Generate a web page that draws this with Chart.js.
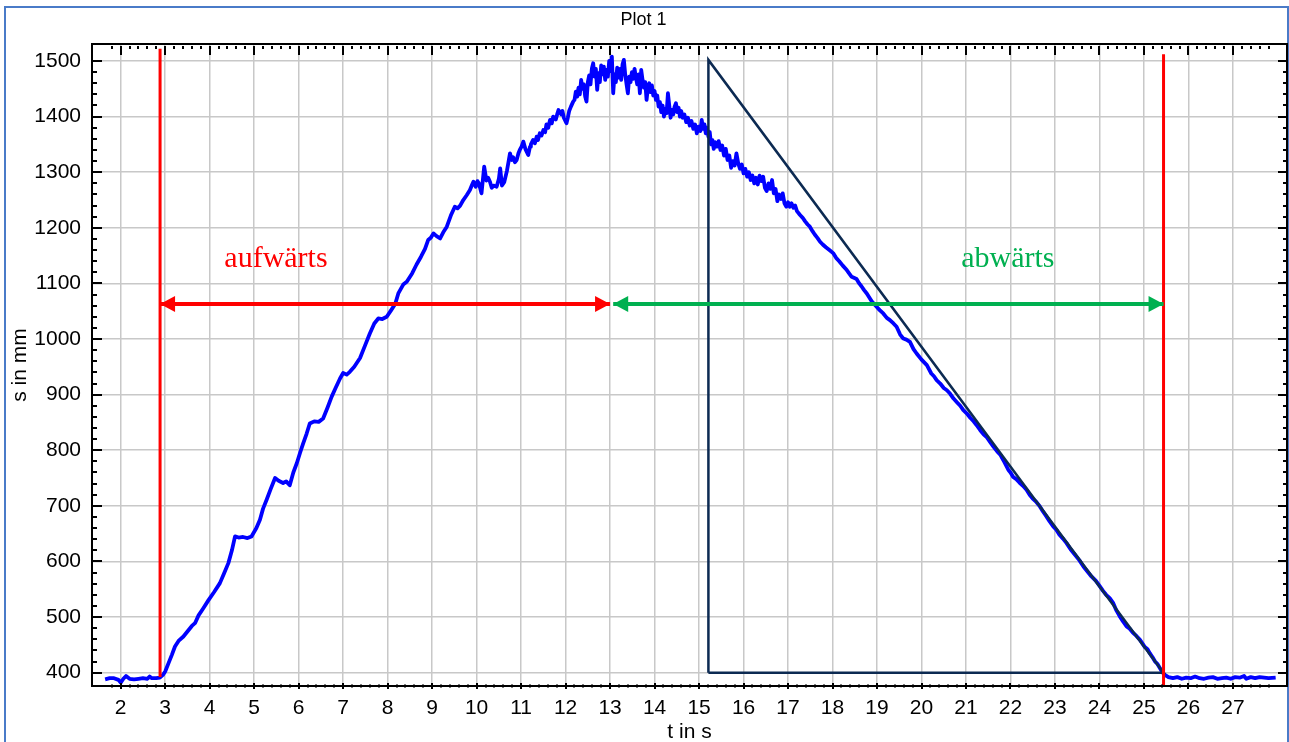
<!DOCTYPE html>
<html>
<head>
<meta charset="utf-8">
<script src="https://cdn.jsdelivr.net/npm/chart.js@4.4.1/dist/chart.umd.min.js"></script>
<style>
html,body{margin:0;padding:0;background:#fff;overflow:hidden;}
canvas{display:block;}
</style>
</head>
<body>
<canvas id="plot" width="1289" height="742"></canvas>
<script>
// measured trace, [t in s, s in mm]
const restStart=[[1.65,388],[1.75,390],[1.85,390],[1.95,387],[2.0,382],[2.06,389],[2.12,394],[2.2,389],[2.3,388],[2.4,389],[2.5,390],[2.6,389],[2.65,393],[2.7,390],[2.8,390],[2.88,391]];
const rise=[[2.95,396],[3.0,402],[3.08,418],[3.15,432],[3.22,447],[3.3,457],[3.41,465],[3.5,474],[3.6,484],[3.67,489],[3.75,503],[3.85,515],[3.97,530],[4.1,545],[4.23,561],[4.32,578],[4.42,597],[4.5,620],[4.57,645],[4.65,643],[4.75,644],[4.85,642],[4.94,645],[5.05,660],[5.13,675],[5.2,695],[5.28,711],[5.37,730],[5.47,750],[5.55,745],[5.65,741],[5.72,744],[5.8,737],[5.88,760],[5.96,777],[6.03,795],[6.1,812],[6.18,830],[6.25,848],[6.35,852],[6.45,851],[6.55,857],[6.65,877],[6.74,896],[6.83,912],[6.93,929],[7.0,939],[7.08,936],[7.15,941],[7.25,950],[7.38,966],[7.5,990],[7.6,1010],[7.7,1028],[7.79,1037],[7.88,1036],[7.98,1040],[8.08,1052],[8.17,1063],[8.24,1082],[8.35,1098],[8.43,1103],[8.55,1118],[8.65,1134],[8.75,1148],[8.84,1162],[8.91,1178],[8.97,1182],[9.03,1190],[9.1,1185],[9.18,1181],[9.25,1192],[9.33,1202],[9.42,1222],[9.51,1238],[9.57,1235],[9.63,1240],[9.7,1250],[9.78,1259],[9.85,1268],[9.9,1278],[9.93,1283],[9.98,1274],[10.02,1284],[10.05,1280],[10.11,1262],[10.17,1310],[10.22,1285],[10.26,1290],[10.3,1283],[10.34,1272],[10.38,1276],[10.45,1274],[10.5,1288],[10.53,1307],[10.57,1276],[10.62,1282],[10.68,1302],[10.72,1320],[10.75,1334],[10.79,1322],[10.82,1327],[10.86,1318],[10.9,1322],[10.94,1334],[10.97,1340],[11.01,1346],[11.05,1355],[11.1,1341],[11.13,1336],[11.16,1331],[11.2,1346],[11.22,1350],[11.27,1358],[11.31,1352],[11.35,1364],[11.38,1358],[11.42,1370],[11.46,1366],[11.5,1376],[11.54,1372],[11.57,1386],[11.61,1380],[11.65,1394],[11.69,1388],[11.72,1400],[11.78,1395],[11.81,1404],[11.84,1412],[11.9,1404],[11.93,1410],[11.96,1398],[12.02,1388],[12.05,1398],[12.08,1410],[12.12,1418],[12.17,1427]];
const peak=[[12.2,1430],[12.23,1445],[12.26,1436],[12.29,1452],[12.32,1440],[12.35,1466],[12.38,1450],[12.41,1458],[12.44,1436],[12.47,1427],[12.5,1462],[12.53,1474],[12.56,1458],[12.59,1486],[12.62,1496],[12.65,1472],[12.68,1486],[12.71,1448],[12.74,1478],[12.77,1462],[12.8,1492],[12.83,1476],[12.86,1490],[12.89,1466],[12.92,1484],[12.95,1472],[12.98,1500],[13.01,1482],[13.04,1508],[13.07,1442],[13.1,1476],[13.13,1462],[13.16,1488],[13.19,1470],[13.22,1486],[13.25,1466],[13.28,1494],[13.31,1502],[13.34,1476],[13.37,1458],[13.4,1442],[13.43,1472],[13.46,1462],[13.49,1480],[13.52,1468],[13.55,1486],[13.58,1470],[13.61,1458],[13.64,1476],[13.67,1442],[13.7,1484],[13.73,1466],[13.76,1452],[13.79,1462],[13.82,1430],[13.85,1452],[13.88,1460],[13.91,1444],[13.94,1456],[13.97,1438],[14.0,1446],[14.03,1430],[14.06,1438],[14.09,1418],[14.12,1426],[14.15,1408],[14.18,1420],[14.21,1400],[14.24,1414],[14.27,1406],[14.3,1442],[14.33,1420],[14.36,1398],[14.39,1412],[14.42,1404],[14.45,1418],[14.48,1424],[14.51,1408],[14.54,1416],[14.57,1400],[14.6,1410],[14.63,1398],[14.67,1404],[14.71,1390],[14.75,1398],[14.79,1384],[14.83,1392],[14.87,1378],[14.91,1386],[14.95,1370],[14.99,1382],[15.03,1374],[15.06,1394],[15.09,1378],[15.12,1386],[15.15,1370],[15.18,1380]];
const fall=[[15.21,1364],[15.24,1372],[15.27,1350],[15.3,1358],[15.33,1342],[15.36,1354],[15.4,1346],[15.44,1356],[15.48,1340],[15.52,1348],[15.56,1330],[15.6,1342],[15.64,1322],[15.68,1330],[15.72,1308],[15.76,1320],[15.8,1312],[15.84,1334],[15.88,1316],[15.92,1306],[15.96,1314],[16.0,1298],[16.04,1306],[16.08,1292],[16.12,1300],[16.16,1286],[16.2,1294],[16.24,1280],[16.28,1290],[16.32,1278],[16.36,1294],[16.4,1284],[16.44,1292],[16.48,1272],[16.52,1266],[16.56,1280],[16.6,1270],[16.64,1286],[16.68,1262],[16.72,1270],[16.76,1248],[16.8,1260],[16.84,1252],[16.88,1262],[16.92,1244],[16.96,1238],[17.0,1246],[17.04,1238],[17.08,1244],[17.12,1236],[17.16,1240],[17.2,1230],[17.27,1223],[17.33,1218],[17.38,1212],[17.44,1206],[17.49,1202],[17.55,1194],[17.6,1188],[17.66,1182],[17.72,1175],[17.78,1170],[17.85,1165],[17.93,1160],[18.02,1154],[18.08,1146],[18.15,1140],[18.23,1132],[18.32,1124],[18.43,1112],[18.54,1108],[18.6,1100],[18.65,1095],[18.71,1088],[18.77,1082],[18.88,1068],[18.99,1058],[19.06,1052],[19.14,1046],[19.22,1038],[19.29,1034],[19.37,1028],[19.44,1022],[19.52,1008],[19.59,1001],[19.66,999],[19.74,995],[19.82,982],[19.89,974],[20.0,963],[20.06,958],[20.12,953],[20.22,938],[20.28,933],[20.34,926],[20.42,920],[20.5,912],[20.57,908],[20.64,902],[20.72,893],[20.8,886],[20.87,880],[20.94,872],[21.02,866],[21.1,858],[21.17,852],[21.24,845],[21.32,836],[21.4,828],[21.47,823],[21.54,815],[21.62,806],[21.7,798],[21.77,792],[21.84,782],[21.95,765],[22.0,760],[22.06,752],[22.13,748],[22.2,742],[22.28,736],[22.36,729],[22.43,720],[22.5,713],[22.58,707],[22.66,699],[22.73,690],[22.8,682],[22.88,672],[22.96,663],[23.03,657],[23.1,648],[23.18,641],[23.26,633],[23.35,622],[23.45,612],[23.55,602],[23.64,591],[23.73,582],[23.82,573],[23.92,565],[24.01,555],[24.08,547],[24.15,540],[24.23,534],[24.31,525],[24.38,512],[24.45,502],[24.53,492],[24.61,483],[24.68,479],[24.75,472],[24.83,466],[24.91,459],[25.02,446],[25.08,442],[25.13,435],[25.19,428],[25.25,420],[25.3,416],[25.36,408],[25.42,400],[25.47,396]];
const restEnd=[[25.55,392],[25.65,390],[25.75,392],[25.85,389],[25.95,391],[26.05,390],[26.15,393],[26.25,390],[26.35,389],[26.45,391],[26.55,392],[26.65,389],[26.75,390],[26.85,391],[26.95,389],[27.05,392],[27.15,391],[27.25,394],[27.3,389],[27.4,392],[27.5,390],[27.6,392],[27.7,391],[27.8,390],[27.96,391]];

// helper shapes (t, s)
const triangle=[[15.21,400],[15.21,1502],[25.44,400],[15.21,400]];
const redLeft=[[2.885,392],[2.885,1522]];
const redRight=[[25.44,376],[25.44,1512]];
const arrowUp=[[2.885,1063],[13.0,1063]];
const arrowDown=[[13.07,1063],[25.44,1063]];
const notes=[{text:'aufwärts',t:5.49,s:1129,color:'#ff0000'},{text:'abwärts',t:21.94,s:1129,color:'#00b050'}];

const X_TICKS=[2,3,4,5,6,7,8,9,10,11,12,13,14,15,16,17,18,19,20,21,22,23,24,25,26,27];
const Y_TICKS=[400,500,600,700,800,900,1000,1100,1200,1300,1400,1500];
const X_MIN=1.355, X_MAX=28.215, Y_MIN=376, Y_MAX=1530.6;

const FONT='"Liberation Sans", Arial, sans-serif';
const pts=a=>a.map(p=>({x:p[0],y:p[1]}));

const framePlugin={
  id:'frame',
  beforeDraw(chart){
    const c=chart.ctx;
    c.save();
    c.fillStyle='#fff';c.fillRect(0,0,chart.width,chart.height);
    c.strokeStyle='#4a7bc8';c.lineWidth=2;
    c.strokeRect(5,7,1283,800);
    c.restore();
  },
  afterDatasetsDraw(chart){
    const c=chart.ctx;
    c.save();
    // arrow heads
    chart.data.datasets.forEach((ds,i)=>{
      if(!ds.arrowHeads) return;
      const m=chart.getDatasetMeta(i).data;
      const a=m[0],b=m[m.length-1];
      c.fillStyle=ds.borderColor;
      [[a,-1],[b,1]].forEach(([p,dir])=>{
        c.beginPath();
        c.moveTo(p.x,p.y);
        c.lineTo(p.x-dir*15,p.y-8);
        c.lineTo(p.x-dir*15,p.y+8);
        c.closePath();c.fill();
      });
    });
    // text notes
    const xs=chart.scales.x,ys=chart.scales.y;
    c.font='30px "Liberation Serif", "Times New Roman", serif';
    c.textAlign='center';c.textBaseline='alphabetic';
    notes.forEach(n=>{
      c.fillStyle=n.color;
      c.fillText(n.text,xs.getPixelForValue(n.t),ys.getPixelForValue(n.s));
    });
    c.restore();
  },
  afterDraw(chart){
    const c=chart.ctx;
    const {left,right,top,bottom}=chart.chartArea;
    const xs=chart.scales.x,ys=chart.scales.y;
    c.save();
    c.strokeStyle='#000';c.lineWidth=2;
    c.strokeRect(left,top,right-left,bottom-top);
    c.beginPath();
    for(let k=18;k<=278;k+=2){
      const px=Math.round(xs.getPixelForValue(k/10));
      const major=k%10===0;
      c.moveTo(px,top+2);c.lineTo(px,top+2+(major?9:3));
      c.moveTo(px,bottom-(major?3:1.5));c.lineTo(px,bottom+(major?3:1.5));
    }
    for(let v=400;v<=1500;v+=20){
      const py=Math.round(ys.getPixelForValue(v));
      const major=v%100===0;
      c.moveTo(left,py);c.lineTo(left+(major?10:5),py);
      c.moveTo(right,py);c.lineTo(right-(major?9:4),py);
    }
    c.stroke();
    c.restore();
  }
};

new Chart(document.getElementById('plot'),{
  type:'line',
  data:{datasets:[
    {data:pts(arrowUp),borderColor:'#ff0000',borderWidth:4,arrowHeads:true,order:1},
    {data:pts(arrowDown),borderColor:'#00b050',borderWidth:4,arrowHeads:true,order:1},
    {data:pts(redLeft),borderColor:'#ff0000',borderWidth:3,order:2},
    {data:pts(redRight),borderColor:'#ff0000',borderWidth:3,order:2},
    {data:pts(triangle),borderColor:'#0c2a52',borderWidth:2.5,order:3},
    {data:pts([...restStart,...rise,...peak,...fall,...restEnd]),borderColor:'#0000ff',borderWidth:3.8,borderJoinStyle:'round',order:4}
  ]},
  options:{
    responsive:false,animation:false,devicePixelRatio:1,
    elements:{point:{radius:0},line:{tension:0,fill:false}},
    layout:{padding:{left:0,right:2,top:0,bottom:0}},
    plugins:{
      legend:{display:false},tooltip:{enabled:false},
      title:{display:true,text:'Plot 1',color:'#000',font:{family:FONT,size:18,weight:'normal'},padding:{top:9,bottom:13.4}}
    },
    scales:{
      x:{type:'linear',position:'bottom',min:X_MIN,max:X_MAX,
        afterBuildTicks:s=>{s.ticks=X_TICKS.map(v=>({value:v}));},
        afterFit:s=>{s.height=56;},
        grid:{color:'#c8c8c8',lineWidth:1.5,drawTicks:false},
        border:{display:false},
        ticks:{color:'#000',font:{family:FONT,size:21},padding:10,maxRotation:0,autoSkip:false,callback:v=>String(v)},
        title:{display:true,text:'t in s',color:'#000',font:{family:FONT,size:21,lineHeight:0.9},padding:{top:0,bottom:0}}
      },
      y:{type:'linear',position:'left',min:Y_MIN,max:Y_MAX,
        afterBuildTicks:s=>{s.ticks=Y_TICKS.map(v=>({value:v}));},
        afterFit:s=>{s.width=92;},
        grid:{color:'#c8c8c8',lineWidth:1.5,drawTicks:false},
        border:{display:false},
        ticks:{color:'#000',font:{family:FONT,size:21},padding:11,autoSkip:false,callback:v=>String(v)},
        title:{display:true,text:'s in mm',color:'#000',font:{family:FONT,size:21},padding:{top:8,bottom:0}}
      }
    }
  },
  plugins:[framePlugin]
});
</script>
</body>
</html>
